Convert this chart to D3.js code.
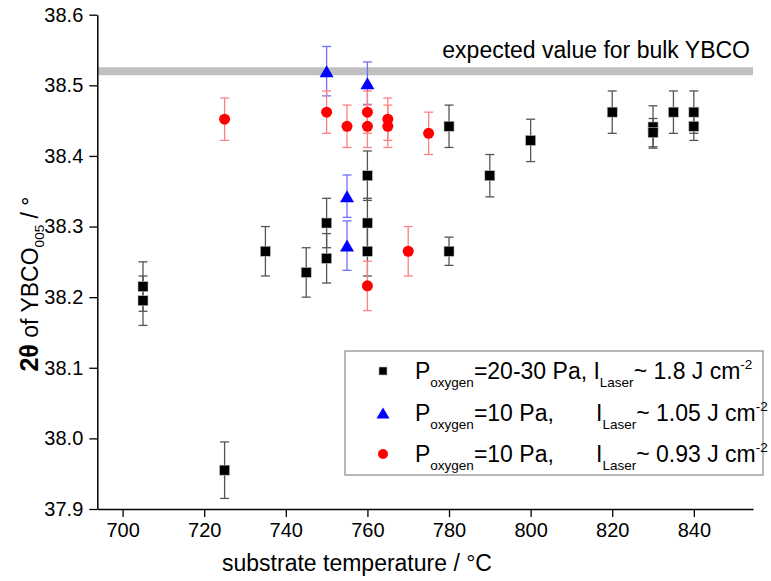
<!DOCTYPE html>
<html><head><meta charset="utf-8">
<script src="https://cdn.jsdelivr.net/npm/d3@7"></script>
<style>body{margin:0;background:#fff}svg{display:block;font-family:"Liberation Sans",Arial,sans-serif}</style>
</head><body><svg id="c" width="771" height="581"></svg>
<script>
// ---- data ----
const blackTemp = [705, 705, 725, 735, 745, 750, 750, 760, 760, 760, 780, 780, 790, 800, 820, 830, 830, 835, 840, 840];
const blackVal  = [38.215, 38.195, 37.955, 38.265, 38.235, 38.305, 38.255, 38.372, 38.305, 38.265, 38.442, 38.265, 38.372, 38.422, 38.462, 38.441, 38.433, 38.462, 38.462, 38.442];
const blackErr  = [0.035, 0.035, 0.04, 0.035, 0.035, 0.035, 0.035, 0.035, 0.035, 0.035, 0.03, 0.02, 0.03, 0.03, 0.03, 0.03, 0.02, 0.03, 0.03, 0.02];

const blueTemp = [750, 755, 755, 760];
const blueVal  = [38.52, 38.343, 38.273, 38.503];
const blueErr  = [0.035, 0.03, 0.035, 0.03];

const redTemp = [725, 750, 755, 760, 760, 760, 765, 765, 770, 775];
const redVal  = [38.452, 38.462, 38.442, 38.462, 38.442, 38.216, 38.452, 38.442, 38.265, 38.432];
const redErr  = [0.03, 0.03, 0.03, 0.03, 0.03, 0.035, 0.03, 0.03, 0.035, 0.03];

const bulkValue = 38.52;
const xTicks = [700, 720, 740, 760, 780, 800, 820, 840];
const xMinor = [710, 730, 750, 770, 790, 810, 830, 850];
const yTicks = [37.9, 38.0, 38.1, 38.2, 38.3, 38.4, 38.5, 38.6];
const yMinor = [37.95, 38.05, 38.15, 38.25, 38.35, 38.45, 38.55];

const legendRows = [
  {a: "=20-30 Pa, I", b: null, val: "~ 1.8 J cm"},
  {a: "=10 Pa,", b: "I", val: "~ 1.05 J cm"},
  {a: "=10 Pa,", b: "I", val: "~ 0.93 J cm"}
];

// ---- drawing ----
const svg = d3.select("#c");
const x = d3.scaleLinear().domain([693.8, 854.5]).range([97.3, 753]);
const y = d3.scaleLinear().domain([37.9, 38.6]).range([509, 14.7]);

// bulk line
svg.append("line").attr("x1", x(693.8)).attr("x2", x(854.5))
  .attr("y1", y(bulkValue)).attr("y2", y(bulkValue))
  .attr("stroke", "#c0c0c0").attr("stroke-width", 8);
svg.append("text").attr("x", 750).attr("y", 58).attr("text-anchor", "end")
  .attr("font-size", 23).attr("fill", "#000").text("expected value for bulk YBCO");

// axes
const gx = svg.append("g").attr("transform", `translate(0,${y(37.9)})`);
gx.call(d3.axisBottom(x).tickValues(xMinor).tickSize(5).tickSizeOuter(0).tickFormat(""));
gx.call(d3.axisBottom(x).tickValues(xTicks).tickSize(8).tickSizeOuter(0).tickPadding(6).tickFormat(d3.format("d")));
const gy = svg.append("g").attr("transform", `translate(${x(693.8)},0)`);
gy.call(d3.axisLeft(y).tickValues(yMinor).tickSize(5).tickSizeOuter(0).tickFormat(""));
gy.call(d3.axisLeft(y).tickValues(yTicks).tickSize(8).tickSizeOuter(0).tickPadding(6).tickFormat(d3.format(".1f")));
svg.selectAll(".domain").attr("stroke", "#000").attr("stroke-width", 1.5);
svg.selectAll(".tick line").attr("stroke", "#000").attr("stroke-width", 1.3);
svg.selectAll(".tick text").attr("font-size", 20).attr("fill", "#000").attr("font-family", "Liberation Sans, Arial, sans-serif");

// series
function drawSeries(temps, vals, errs, barColor, markerFn) {
  const data = temps.map((t, i) => ({t, v: vals[i], e: errs[i]}));
  const g = svg.append("g");
  const eb = g.append("g").attr("stroke", barColor).attr("stroke-width", 1.3).attr("fill", "none");
  data.forEach(d => {
    const cx = x(d.t), y1 = y(d.v + d.e), y2 = y(d.v - d.e);
    eb.append("line").attr("x1", cx).attr("x2", cx).attr("y1", y1).attr("y2", y2);
    eb.append("line").attr("x1", cx - 4.5).attr("x2", cx + 4.5).attr("y1", y1).attr("y2", y1);
    eb.append("line").attr("x1", cx - 4.5).attr("x2", cx + 4.5).attr("y1", y2).attr("y2", y2);
  });
  data.forEach(d => markerFn(g, x(d.t), y(d.v)));
}
function square(g, cx, cy, s = 10) {
  g.append("rect").attr("x", cx - s / 2).attr("y", cy - s / 2).attr("width", s).attr("height", s)
    .attr("fill", "#000").attr("stroke", "#bbb").attr("stroke-width", 0.6);
}
function triangle(g, cx, cy, w = 14, h = 12) {
  g.append("path").attr("d", `M${cx},${cy - h / 2}L${cx + w / 2},${cy + h / 2}L${cx - w / 2},${cy + h / 2}Z`)
    .attr("fill", "#0000ff");
}
function circle(g, cx, cy, r = 5.5) {
  g.append("circle").attr("cx", cx).attr("cy", cy).attr("r", r).attr("fill", "#ff0000");
}

drawSeries(blackTemp, blackVal, blackErr, "#555", (g, a, b) => square(g, a, b));
drawSeries(blueTemp, blueVal, blueErr, "#7070ff", (g, a, b) => triangle(g, a, b));
drawSeries(redTemp, redVal, redErr, "#ff8080", (g, a, b) => circle(g, a, b));

// y title
const yt = svg.append("text").attr("transform", "translate(38,284) rotate(-90)")
  .attr("text-anchor", "middle").attr("font-size", 23).attr("fill", "#000");
yt.append("tspan").attr("font-weight", "bold").attr("font-size", 25).text("2θ");
yt.append("tspan").text(" of YBCO");
yt.append("tspan").attr("font-size", 13.5).attr("dy", 6).text("005");
yt.append("tspan").attr("dy", -6).text(" / °");

// x title
svg.append("text").attr("x", 357).attr("y", 571).attr("text-anchor", "middle")
  .attr("font-size", 23).attr("fill", "#000").text("substrate temperature / °C");

// legend
svg.append("rect").attr("x", 345).attr("y", 351).attr("width", 418).attr("height", 124)
  .attr("fill", "#fff").attr("stroke", "#888").attr("stroke-width", 1.2);
const rowY = [371, 413, 454];
const lg = svg.append("g");
square(lg, 383, rowY[0], 8);
triangle(lg, 383, rowY[1], 13, 11);
circle(lg, 383, rowY[2], 5);
legendRows.forEach((r, i) => {
  const t = lg.append("text").attr("x", 415).attr("y", rowY[i] + 8).attr("font-size", 23).attr("fill", "#000");
  t.append("tspan").text("P");
  t.append("tspan").attr("font-size", 13.5).attr("dy", 8).text("oxygen");
  t.append("tspan").attr("dy", -8).text(r.a);
  let t2 = t;
  if (r.b) {
    t2 = lg.append("text").attr("x", 596).attr("y", rowY[i] + 8).attr("font-size", 23).attr("fill", "#000");
    t2.append("tspan").text(r.b);
  }
  t2.append("tspan").attr("font-size", 13.5).attr("dy", 8).text("Laser");
  t2.append("tspan").attr("dy", -8).text(r.val);
  t2.append("tspan").attr("font-size", 13.5).attr("dy", -10).text("-2");
});
</script></body></html>
